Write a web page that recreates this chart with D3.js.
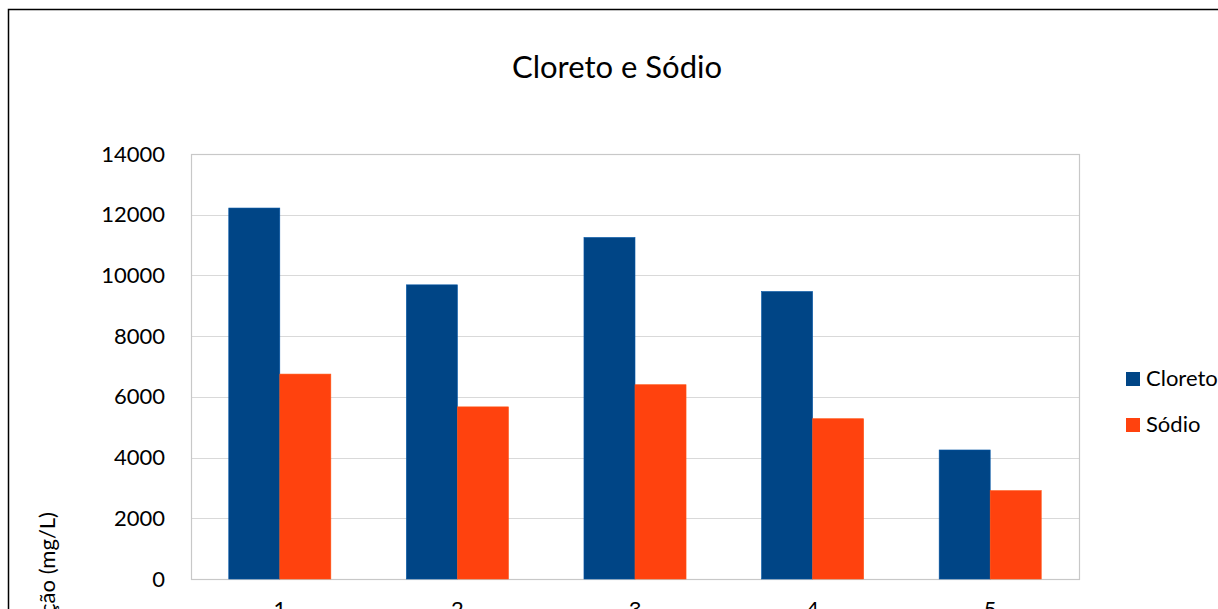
<!DOCTYPE html>
<html>
<head>
<meta charset="utf-8">
<script src="https://cdn.jsdelivr.net/npm/d3@7"></script>
<style>
  body { margin: 0; background: #fff; overflow: hidden; }
  svg { display: block; font-family: Lato, "Open Sans", sans-serif; }
</style>
</head>
<body>
<div id="chart"></div>
<script>
const categories = ['1', '2', '3', '4', '5'];
const seriesNames = ['Cloreto', 'Sódio'];
const cloreto = [12220, 9690, 11250, 9470, 4250];
const sodio = [6750, 5670, 6400, 5280, 2910];
const yTicks = [0, 2000, 4000, 6000, 8000, 10000, 12000, 14000];
const colors = ['#004586', '#ff420e'];

const width = 1218, height = 609;
const plot = { left: 191, top: 154, right: 1079, bottom: 579 };

const svg = d3.select('#chart').append('svg')
    .attr('width', width)
    .attr('height', height);

// outer chart frame (runs past the window edge)
svg.append('rect')
    .attr('x', 8.5).attr('y', 9.5)
    .attr('width', 1400).attr('height', 800)
    .attr('fill', 'none')
    .attr('stroke', '#000')
    .attr('stroke-width', 1.5);

svg.append('text')
    .attr('x', 617).attr('y', 78)
    .attr('text-anchor', 'middle')
    .attr('font-size', 31)
    .attr('fill', '#000')
    .text('Cloreto e Sódio');

const x = d3.scaleBand()
    .domain(categories)
    .range([plot.left, plot.right]);

const xInner = d3.scaleBand()
    .domain(seriesNames)
    .range([0, x.bandwidth()])
    .paddingInner(0)
    .paddingOuter(0.74);

const y = d3.scaleLinear()
    .domain([0, 14000])
    .range([plot.bottom, plot.top]);

// gridlines
svg.append('g')
    .selectAll('line')
    .data(yTicks.filter(d => d > 0))
    .join('line')
    .attr('x1', plot.left).attr('x2', plot.right)
    .attr('y1', d => Math.round(y(d)) + 0.5)
    .attr('y2', d => Math.round(y(d)) + 0.5)
    .attr('stroke', '#d9d9d9')
    .attr('stroke-width', 1.2);

// plot frame
svg.append('rect')
    .attr('x', plot.left + 0.5).attr('y', plot.top + 0.5)
    .attr('width', plot.right - plot.left).attr('height', plot.bottom - plot.top)
    .attr('fill', 'none')
    .attr('stroke', '#c8c8c8')
    .attr('stroke-width', 1.2);

const rows = categories.map((c, i) => ({ cat: c, values: [cloreto[i], sodio[i]] }));

svg.append('g')
    .selectAll('g')
    .data(rows)
    .join('g')
    .attr('transform', d => `translate(${x(d.cat)},0)`)
    .selectAll('rect')
    .data(d => d.values.map((v, j) => ({ name: seriesNames[j], value: v, color: colors[j] })))
    .join('rect')
    .attr('x', d => xInner(d.name))
    .attr('y', d => y(d.value))
    .attr('width', xInner.bandwidth())
    .attr('height', d => y(0) - y(d.value))
    .attr('fill', d => d.color)
    .attr('stroke', d => d3.color(d.color).brighter(0.6))
    .attr('stroke-width', 0.6);

// y axis labels
const yAxis = d3.axisLeft(y).tickValues(yTicks).tickFormat(d3.format('d')).tickSize(0).tickPadding(26);
svg.append('g')
    .attr('transform', `translate(${plot.left},0)`)
    .call(yAxis)
    .call(g => g.select('.domain').remove())
    .call(g => g.selectAll('text')
        .attr('font-size', 22)
        .attr('font-family', 'Lato, "Open Sans", sans-serif')
        .attr('fill', '#000'));

// x axis labels
const xAxis = d3.axisBottom(x).tickSize(0).tickPadding(22);
svg.append('g')
    .attr('transform', `translate(0,${plot.bottom})`)
    .call(xAxis)
    .call(g => g.select('.domain').remove())
    .call(g => g.selectAll('text')
        .attr('font-size', 22)
        .attr('font-family', 'Lato, "Open Sans", sans-serif')
        .attr('fill', '#000'));

svg.append('text')
    .attr('transform', 'translate(55,512) rotate(-90)')
    .attr('text-anchor', 'end')
    .attr('font-size', 22)
    .attr('fill', '#000')
    .text('Concentração (mg/L)');

// legend
const legend = svg.append('g')
    .selectAll('g')
    .data(seriesNames)
    .join('g')
    .attr('transform', (d, i) => `translate(1126,${372 + i * 46})`);

legend.append('rect')
    .attr('width', 14).attr('height', 14)
    .attr('fill', (d, i) => colors[i]);

legend.append('text')
    .attr('x', 20).attr('y', 14)
    .attr('font-size', 22)
    .attr('fill', '#000')
    .text(d => d);
</script>
</body>
</html>
